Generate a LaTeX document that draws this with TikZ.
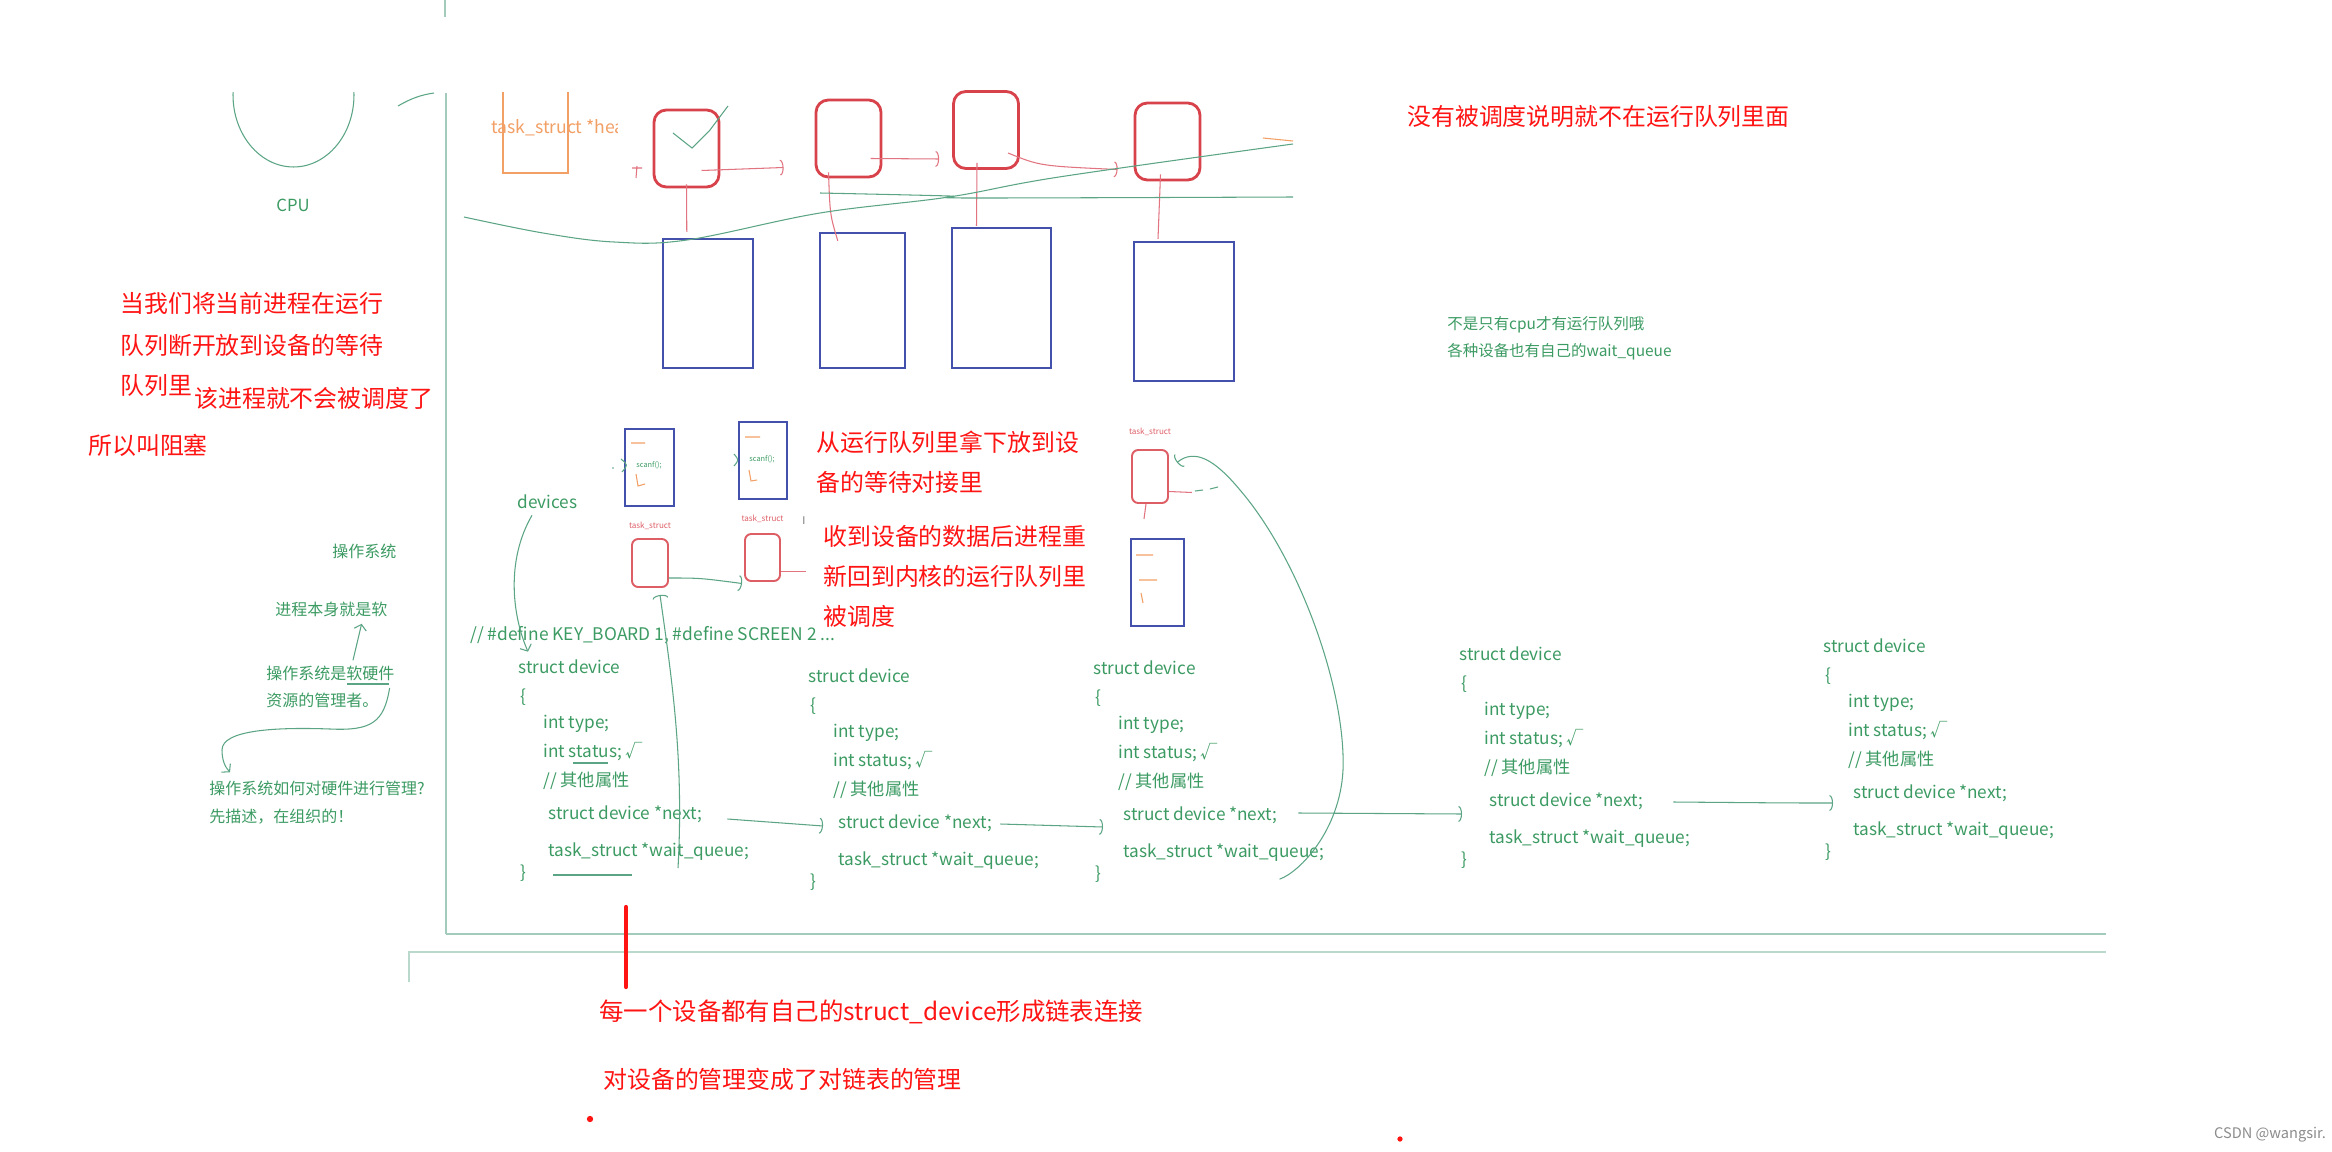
\documentclass[tikz,border=0pt]{standalone}
\usepackage{fontspec}
\setmainfont{Noto Sans CJK SC}
\usetikzlibrary{positioning,arrows.meta,calc}
\definecolor{inkred}{HTML}{FF1414}
\definecolor{boxred}{HTML}{D8424B}
\definecolor{boxblue}{HTML}{4451AC}
\definecolor{codegreen}{HTML}{3C9B63}
\definecolor{pengreen}{HTML}{5BA585}
\definecolor{penorange}{HTML}{F2A066}
\definecolor{thinred}{HTML}{E27480}
\definecolor{rulegreen}{HTML}{A3CBBB}

% one struct device, every line placed from the first one
\newcommand{\devblock}[3]{%
  \node[code] (#1-hd) at (#2,#3) {struct device};
  \node[code] (#1-ob) at (#2+2,#3+30) {\{};
  \node[code] (#1-type) at (#2+25,#3+57) {int type;};
  \node[code] (#1-stat) at (#2+25,#3+85) {int status; √};
  \node[code] (#1-attr) at (#2+25,#3+114) {// 其他属性};
  \node[code] (#1-next) at (#2+30,#3+147) {struct device *next;};
  \node[code] (#1-wq) at (#2+30,#3+185) {task\_struct *wait\_queue;};
  \node[code] (#1-cb) at (#2+2,#3+206) {\}};
}

\begin{document}
\begin{tikzpicture}[x=0.02cm, y=-0.02cm,
  txt/.style={inner sep=0pt, anchor=west},
  redtxt/.style={txt, text=inkred, font=\fontsize{13.6pt}{16pt}\selectfont},
  note/.style={txt, text=codegreen, font=\fontsize{9.1pt}{11pt}\selectfont},
  code/.style={txt, text=codegreen, font=\fontsize{9.8pt}{12pt}\selectfont},
  tinylbl/.style={inner sep=0pt, text=boxred!85, font=\fontsize{4.6pt}{5pt}\selectfont},
  scan/.style={txt, text=codegreen, font=\fontsize{4.2pt}{5pt}\selectfont},
  runq/.style={draw=boxred, line width=1.6pt, rounded corners=7pt, minimum width=1.3cm,
               minimum height=1.54cm, inner sep=0pt},
  mem/.style={draw=boxblue, line width=1.4pt, inner sep=0pt},
  tsk/.style={draw=boxred!85, line width=1.1pt, rounded corners=3.5pt, inner sep=0pt},
  pen/.style={draw=pengreen, line width=0.6pt},
  redpen/.style={draw=thinred, line width=0.6pt},
  orpen/.style={draw=penorange, line width=0.6pt},
  barb/.style={-{Arc Barb[length=2pt, width=9pt]}},
  vbarb/.style={-{Straight Barb[length=3pt, width=7pt]}}]
\useasboundingbox (0,0) rectangle (2332,1152);
\fill[white] (0,0) rectangle (2332,1152);

% whiteboard frame
\draw[rulegreen, line width=0.8pt] (445,0) -- (445,17);
\draw[rulegreen, line width=0.9pt] (446,93) -- (446,934);
\draw[rulegreen, line width=1.3pt] (446,934) -- (2106,934);
\draw[rulegreen!75, line width=0.9pt] (409,982) -- (409,952) -- (2106,952);

% cpu and run queue head, cut at the top of the board
\begin{scope}
\clip (0,93) rectangle (2332,1152);
\draw[pen] (293.5,95) ellipse [x radius=1.21cm, y radius=1.44cm];
\node[draw=penorange, line width=0.6pt, minimum width=1.3cm, minimum height=1.8cm, inner sep=0pt] (headbox) at (535.5,128) {};
\end{scope}
\begin{scope}
\clip (480,110) rectangle (617,150);
\node[txt, text=penorange, font=\fontsize{10pt}{12pt}\selectfont] (headtxt) at (491,128) {task\_struct *head};
\end{scope}
\node[text=codegreen, inner sep=0pt, font=\fontsize{9.5pt}{11pt}\selectfont] (cpu) at (293,205) {CPU};
\draw[pen] (398,106) .. controls (410,99) and (420,95) .. (434,93);

% run queue
\node[runq] (rq1) at (686.5,148.5) {};
\node[runq] (rq2) at (848.5,138.5) {};
\node[runq] (rq3) at (986,130) {};
\node[runq] (rq4) at (1167.5,141.5) {};
\node[mem, minimum width=1.8cm, minimum height=2.58cm] (mem1) at (708,303.5) {};
\node[mem, minimum width=1.7cm, minimum height=2.7cm] (mem2) at (862.5,300.5) {};
\node[mem, minimum width=1.98cm, minimum height=2.8cm] (mem3) at (1001.5,298) {};
\node[mem, minimum width=2cm, minimum height=2.78cm] (mem4) at (1184,311.5) {};

\draw[redpen, barb] ($(rq1.center)+(15,22)$) -- ($(rq2.west)+(-31,29)$);
\draw[redpen, barb] ($(rq2.center)+(22,20)$) -- ($(rq3.west)+(-13,29)$);
\draw[redpen, barb] ($(rq3.center)+(22,23)$) .. controls (1040,166) .. ($(rq4.west)+(-16,28)$);
\draw[redpen] ($(rq1.south)+(0,-4)$) -- ($(mem1.north west)+(25,-6)$);
\draw[redpen] ($(rq2.south)+(-20,-6)$) .. controls (830,215) .. ($(mem2.north west)+(19,9)$);
\draw[redpen] ($(rq3.south)+(-9,-7)$) -- ($(mem3.north)+(-25,-1)$);
\draw[redpen] ($(rq4.south)+(-7,-7)$) -- ($(mem4.north)+(-26,-2)$);
\draw[redpen] (632,168) -- (642,168) (637,166) -- (636,178);
\draw[pen] (673,133) -- (692,148) -- (710,130) -- (728,106);
\draw[pen] plot[smooth, tension=0.6] coordinates {(464,217) (543,233) (614,242) (687,240) (820,213) (949,197) (1059,177) (1293,144)};
\draw[pen] plot[smooth, tension=0.5] coordinates {(820,193) (949,196) (967,198) (1293,197)};
\draw[orpen] (1263,138) -- (1293,141);

% texts in red
\node[redtxt] (blk1) at (120,303) {当我们将当前进程在运行};
\node[redtxt] (blk2) at (120,345) {队列断开放到设备的等待};
\node[redtxt] (blk3) at (120,385) {队列里};
\node[redtxt] (blk4) at (194,398) {该进程就不会被调度了};
\node[redtxt] (blk5) at (88,445) {所以叫阻塞};
\node[redtxt] (notrun) at (1407,116) {没有被调度说明就不在运行队列里面};
\node[redtxt] (take1) at (816,442) {从运行队列里拿下放到设};
\node[redtxt] (take2) at (816,482) {备的等待对接里};
\node[redtxt] (back1) at (823,536) {收到设备的数据后进程重};
\node[redtxt] (back2) at (823,576) {新回到内核的运行队列里};
\node[redtxt] (back3) at (823,616) {被调度};
\node[redtxt, font=\fontsize{13.9pt}{16pt}\selectfont] (sum1) at (599,1012) {每一个设备都有自己的struct\_device形成链表连接};
\node[redtxt] (sum2) at (603,1079) {对设备的管理变成了对链表的管理};
\draw[inkred, line width=2.4pt, line cap=round] (626,907) -- (626,987);
\fill[inkred] (590,1119) circle (1.8pt);
\fill[inkred] (1400,1139) circle (1.5pt);

% texts in green
\node[note, font=\fontsize{8.8pt}{11pt}\selectfont] (cpuq) at (1447,325) {不是只有cpu才有运行队列哦};
\node[note, font=\fontsize{8.8pt}{11pt}\selectfont] (devq) at (1447,352) {各种设备也有自己的wait\_queue};
\node[note] (os1) at (332,551) {操作系统};
\node[note] (os2) at (275,609) {进程本身就是软};
\node[note] (os3) at (266,673) {操作系统是软硬件};
\node[note] (os4) at (266,700) {资源的管理者。};
\node[note] (os5) at (209,788) {操作系统如何对硬件进行管理?};
\node[note] (os6) at (209,817) {先描述，在组织的！};
\draw[pen, vbarb] ($(os3.north west)+(87,-5)$) -- ($(os2.south east)+(-26,7)$);
\draw[pen] (347,684) -- (389,684);
\draw[pen, vbarb] ($(os4.east)+(11,-12)$) .. controls (384,722) and (372,731) .. (330,729)
  .. controls (275,727) and (222,730) .. (222,750) .. controls (222,760) and (225,767) .. ($(os5.north west)+(21,-8)$);

% waiting task and its memory
\node[mem, line width=1.1pt, minimum width=0.98cm, minimum height=1.54cm] (bufA) at (649.5,467.5) {};
\node[mem, line width=1.1pt, minimum width=0.96cm, minimum height=1.54cm] (bufB) at (763,460.5) {};
\node[tsk, minimum width=0.72cm, minimum height=0.96cm] (tskC) at (650,563) {};
\node[tsk, minimum width=0.7cm, minimum height=0.94cm] (tskD) at (762.5,557.5) {};
\node[tsk, minimum width=0.72cm, minimum height=1.06cm] (tskE) at (1150,476.5) {};
\node[mem, line width=1.1pt, minimum width=1.06cm, minimum height=1.74cm] (bufF) at (1157.5,582.5) {};
\node[tinylbl, above=1.6mm of tskC] (lblC) {task\_struct};
\node[tinylbl, above=2mm of tskD] (lblD) {task\_struct};
\node[tinylbl, above=2.6mm of tskE] (lblE) {task\_struct};
\node[scan] (scanA) at (636,465) {scanf();};
\node[scan] (scanB) at (749,459) {scanf();};
\draw[orpen] (631,443) -- (645,443) (636,474) -- (638,486) -- (645,484);
\draw[orpen] (745,437) -- (760,437) (749,470) -- (751,481) -- (757,480);
\draw[orpen] (1136,555) -- (1153,555) (1139,580) -- (1157,580) (1141,593) -- (1143,603);
\draw[pen] (621,459) .. controls (628,465) .. (622,472);
\fill[pengreen] (613,468) circle (0.5pt);
\draw[pen] (734,454) .. controls (739,460) .. (734,466);
\draw[pen, barb] ($(tskC.east)+(0,15)$) .. controls (700,578) .. ($(tskD.west)+(-2,26)$);
\draw[redpen] ($(tskD.east)+(0,14)$) -- ++(25,0);
\draw[redpen] ($(tskE.east)+(0,15)$) -- ++(23,1);
\draw[pen] (1195,491) -- (1203,490) (1210,489) -- (1218,487);
\draw[redpen] ($(tskE.south)+(-4,0)$) -- ++(-2,15);
\node[inner sep=0pt, text=black!55, font=\fontsize{6pt}{7pt}\selectfont] (cursor) at (804,521) {I};

% the devices as a linked list
\node[code] (devlbl) at (517,502) {devices};
\node[code, font=\fontsize{9.9pt}{12pt}\selectfont] (defs) at (470,635) {// \#define KEY\_BOARD 1, \#define SCREEN 2 ...};
\devblock{d1}{518}{667}
\devblock{d2}{808}{676}
\devblock{d3}{1093}{668}
\devblock{d4}{1459}{654}
\devblock{d5}{1823}{646}
\draw[pen, vbarb] ($(devlbl.south west)+(15,6)$) .. controls (506,560) and (512,615) .. ($(d1-hd.north west)+(10,-8)$);
\draw[pen] (573,763) -- (608,763) (553,875) -- (632,875);
\draw[pen, barb] ($(d1-next.east)+(25,5)$) -- ($(d2-next.west)+(-15,3)$);
\draw[pen, barb] ($(d2-next.east)+(8,1)$) -- ($(d3-next.west)+(-20,12)$);
\draw[pen, barb] ($(d3-next.east)+(21,-2)$) -- ($(d4-next.west)+(-27,13)$);
\draw[pen, barb] ($(d4-next.east)+(30,1)$) .. controls (1790,803) .. ($(d5-next.west)+(-20,10)$);
\draw[pen, barb] ($(d1-wq.west)+(130,16)$) .. controls (684,760) and (672,680) .. ($(tskC.south)+(10,7)$);
\coordinate (wqtail) at ($(d3-wq.south east)+(-45,17)$);
\draw[pen, barb] (wqtail) .. controls (1300,872) and (1340,830) .. (1343,770)
  .. controls (1346,690) and (1300,560) .. (1240,490)
  .. controls (1215,460) and (1195,448) .. ($(tskE.east)+(8,-14)$);

\node[inner sep=0pt, text=black!45, font=\fontsize{8.3pt}{10pt}\selectfont] (mark) at (2270,1135) {CSDN @wangsir.};
\end{tikzpicture}
\end{document}
